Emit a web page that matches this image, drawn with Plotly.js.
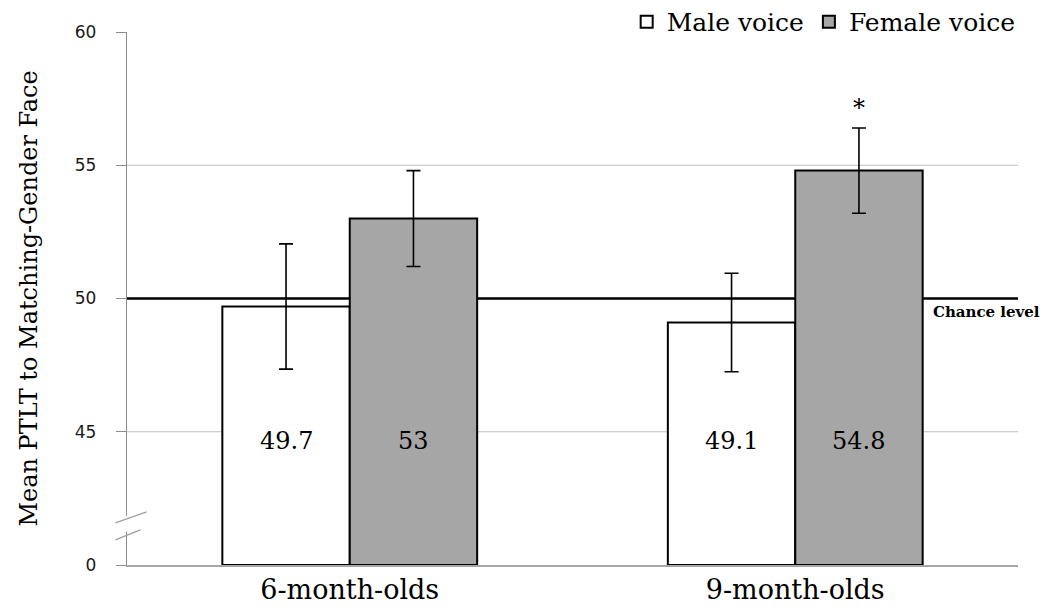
<!DOCTYPE html>
<html>
<head>
<meta charset="utf-8">
<script src="https://cdn.plot.ly/plotly-3.0.1.min.js"></script>
<style>html,body{margin:0;padding:0;background:#fff;}#chart{width:1050px;height:615px;}</style>
</head>
<body>
<div id="chart"></div>
<script>
var categories = ["6-month-olds", "9-month-olds"];
var maleValues = [49.7, 49.1];
var femaleValues = [53.0, 54.8];
var maleErrors = [2.35, 1.85];
var femaleErrors = [1.8, 1.6];
var maleLabels = ["49.7", "49.1"];
var femaleLabels = ["53", "54.8"];
var tickValues = [40, 45, 50, 55, 60];
var tickLabels = ["0", "45", "50", "55", "60"];
var gridValues = [45, 55];
var chanceLevel = 50;
var axisFloor = 40;

var serif = "'DejaVu Serif', 'Liberation Serif', serif";
var errStyle = {type: "data", visible: true, color: "#000", thickness: 1.6, width: 7};

function rel(arr){ return arr.map(function(v){ return v - axisFloor; }); }

var traces = [
  {type: "bar", name: "Male voice", x: categories, y: rel(maleValues), base: axisFloor,
   marker: {color: "#ffffff", line: {color: "#000", width: 2}},
   error_y: Object.assign({array: maleErrors}, errStyle), hoverinfo: "skip"},
  {type: "bar", name: "Female voice", x: categories, y: rel(femaleValues), base: axisFloor,
   marker: {color: "#a6a6a6", line: {color: "#000", width: 2}},
   error_y: Object.assign({array: femaleErrors}, errStyle), hoverinfo: "skip"}
];

var bargap = 0.428;
var plotW = 1050 - 127 - 32;
var barHalf = (plotW / categories.length) * (1 - bargap) / 4;
var annotations = [];
categories.forEach(function(c, i){
  annotations.push({x: c, y: 44.66, xref: "x", yref: "y", text: maleLabels[i], showarrow: false,
    xshift: -barHalf, font: {family: serif, size: 24, color: "#000"}});
  annotations.push({x: c, y: 44.66, xref: "x", yref: "y", text: femaleLabels[i], showarrow: false,
    xshift: barHalf, font: {family: serif, size: 24, color: "#000"}});
});
annotations.push({x: categories[1], y: femaleValues[1] + femaleErrors[1], xref: "x", yref: "y", text: "*",
  showarrow: false, xshift: barHalf, yanchor: "bottom", yshift: 4, font: {family: serif, size: 24, color: "#000"}});
annotations.push({x: 0.902, y: chanceLevel, xref: "paper", yref: "y", text: "Chance level", showarrow: false,
  xanchor: "left", yanchor: "top", yshift: -2, font: {family: serif, size: 15, color: "#000", weight: 600}});

var shapes = [];
gridValues.forEach(function(g){
  shapes.push({type: "line", xref: "paper", yref: "y", x0: 0, x1: 1, y0: g, y1: g,
    line: {color: "#bfbfbf", width: 1.2}, layer: "below"});
});
shapes.push({type: "line", xref: "paper", yref: "y", x0: 0, x1: 1, y0: chanceLevel, y1: chanceLevel,
  line: {color: "#000", width: 2.6}, layer: "between"});
// axis break
shapes.push({type: "rect", xref: "paper", yref: "y", x0: -0.004, x1: 0.004, y0: 41.25, y1: 41.85,
  fillcolor: "#fff", line: {width: 0}, layer: "above"});
shapes.push({type: "line", xref: "paper", yref: "y", x0: -0.013, x1: 0.022, y0: 41.58, y1: 41.99,
  line: {color: "#a0a0a0", width: 1.3}, layer: "above"});
shapes.push({type: "line", xref: "paper", yref: "y", x0: -0.013, x1: 0.015, y0: 40.94, y1: 41.32,
  line: {color: "#a0a0a0", width: 1.3}, layer: "above"});

var layout = {
  width: 1050, height: 615,
  margin: {l: 127, r: 32, t: 32, b: 50, autoexpand: false},
  paper_bgcolor: "#fff", plot_bgcolor: "#fff",
  barmode: "group", bargap: bargap, bargroupgap: 0,
  showlegend: true,
  legend: {orientation: "h", x: 1.003, xanchor: "right", y: 1.062, yanchor: "top",
    font: {family: serif, size: 25, color: "#000"}, bgcolor: "rgba(0,0,0,0)",
    itemwidth: 30, tracegroupgap: 0},
  xaxis: {type: "category", showgrid: false, zeroline: false, showline: true, linecolor: "#a6a6a6", linewidth: 1.5,
    ticks: "", tickfont: {family: serif, size: 27, color: "#000"}, fixedrange: true},
  yaxis: {range: [40, 60], tickvals: tickValues, ticktext: tickLabels, showgrid: false, zeroline: false,
    showline: true, linecolor: "#8c8c8c", linewidth: 1.3, ticks: "outside", ticklen: 10, tickcolor: "#8c8c8c",
    ticklabelstandoff: 16,
    tickfont: {family: "'DejaVu Sans', Verdana, sans-serif", size: 17, color: "#1a1a1a"},
    title: {text: "Mean PTLT to Matching-Gender Face", font: {family: serif, size: 24, color: "#000"}, standoff: 30},
    fixedrange: true},
  annotations: annotations,
  shapes: shapes
};

Plotly.newPlot("chart", traces, layout, {displayModeBar: false, staticPlot: true});
</script>
</body>
</html>
